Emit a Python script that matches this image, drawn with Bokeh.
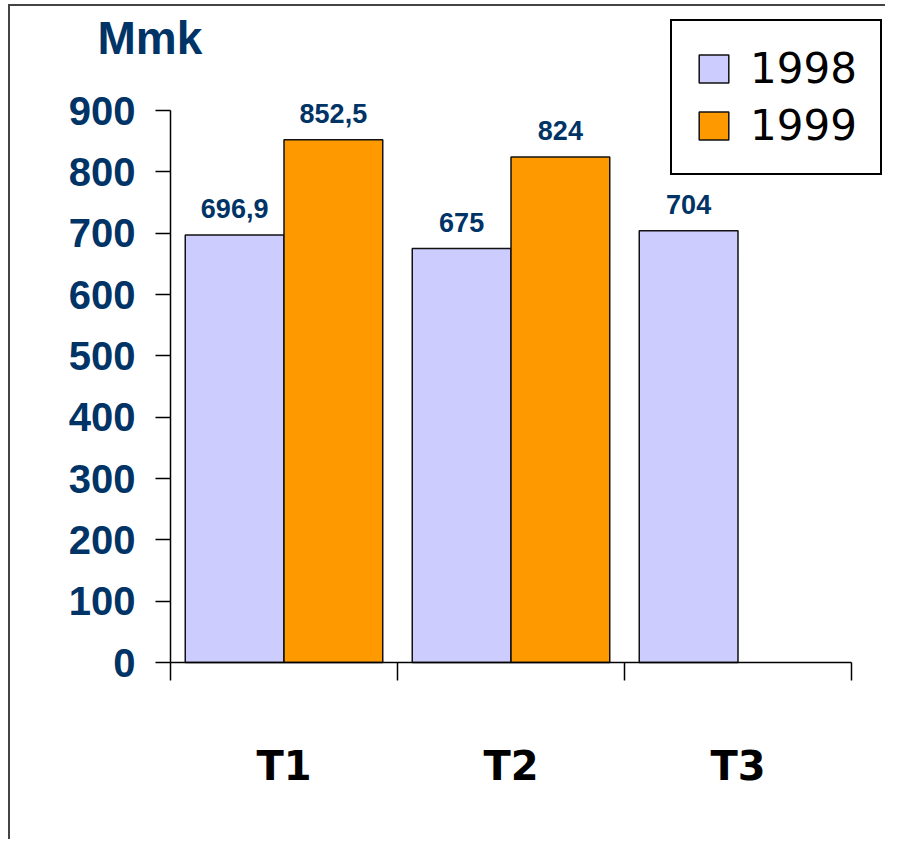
from bokeh.plotting import figure
from bokeh.models import (Range1d, LinearAxis, FixedTicker,
                          ColumnDataSource, LabelSet, Label, Legend, LegendItem)
from bokeh.core.properties import value
from bokeh.embed import file_html
from bokeh.resources import INLINE

# ---- data ----
categories = ["T1", "T2", "T3"]
years = ["1998", "1999"]
values_1998 = [696.9, 675, 704]
values_1999 = [852.5, 824, None]
y_ticks = [0, 100, 200, 300, 400, 500, 600, 700, 800, 900]
unit_label = "Mmk"

colors = {"1998": "#CCCCFF", "1999": "#FF9900"}
navy = "#003366"
BAR_W = 0.435

n = len(categories)
centers = [i + 0.5 for i in range(n)]
y_top = y_ticks[-1]

# layout (pixels)
W, H = 877, 835
PX_LEFT = 160          # frame-left to the y axis
PX_CAT = 227           # pixels per category
PX_Y = 552             # pixels from 0 to 900
PX_ABOVE0 = 656        # pixels from top of figure down to the x axis


def fmt(v):
    return f"{v:g}".replace(".", ",")


p = figure(width=W, height=H,
           x_range=Range1d(-PX_LEFT / PX_CAT, (W - PX_LEFT) / PX_CAT),
           y_range=Range1d(-(H - PX_ABOVE0) * y_top / PX_Y, PX_ABOVE0 * y_top / PX_Y),
           output_backend="svg", toolbar_location=None,
           x_axis_location=None, y_axis_location="left",
           min_border_left=0, min_border_right=0,
           min_border_top=0, min_border_bottom=0)
p.styles = {"border-left": "2px solid #444", "border-top": "2px solid #444",
            "margin-left": "8px", "margin-top": "4px"}
p.outline_line_color = None
p.xgrid.grid_line_color = None
p.ygrid.grid_line_color = None
p.background_fill_color = "white"
p.border_fill_color = "white"

# y axis drawn at x = 0
ya = p.yaxis[0]
ya.fixed_location = 0
ya.bounds = (0, y_top)
ya.ticker = FixedTicker(ticks=y_ticks)
ya.axis_line_color = "black"
ya.axis_line_width = 1.5
ya.major_tick_line_color = "black"
ya.major_tick_line_width = 1.5
ya.major_tick_out = 15
ya.major_tick_in = 0
ya.minor_tick_line_color = None
ya.major_label_standoff = 20
ya.major_label_text_font = "Liberation Sans"
ya.major_label_text_font_style = "bold"
ya.major_label_text_font_size = "40px"
ya.major_label_text_color = navy

# x axis drawn at y = 0: boundary ticks between categories
bounds = list(range(n + 1))
tick_axis = LinearAxis(ticker=FixedTicker(ticks=bounds), bounds=(0, n), fixed_location=0,
                       major_label_text_font_size="0px", major_label_standoff=0,
                       major_tick_out=18, major_tick_in=0,
                       major_tick_line_color="black", major_tick_line_width=1.5,
                       minor_tick_line_color=None,
                       axis_line_color="black", axis_line_width=1.5)
tick_axis.major_label_overrides = {b: "" for b in bounds}
p.add_layout(tick_axis, "below")

# category names at the centres
cat_axis = LinearAxis(ticker=FixedTicker(ticks=centers), bounds=(0, n), fixed_location=0,
                      axis_line_color=None, major_tick_line_color=None,
                      minor_tick_line_color=None,
                      major_label_text_font="DejaVu Sans",
                      major_label_text_font_style="bold",
                      major_label_text_font_size="40px",
                      major_label_text_color="black",
                      major_label_standoff=74)
cat_axis.major_label_overrides = {c: name for c, name in zip(centers, categories)}
p.add_layout(cat_axis, "below")

# bars
renderers = []
offsets = {"1998": -BAR_W / 2, "1999": BAR_W / 2}
for yr, vals in zip(years, [values_1998, values_1999]):
    xs = [c + offsets[yr] for c, v in zip(centers, vals) if v is not None]
    vs = [v for v in vals if v is not None]
    src = ColumnDataSource(dict(x=xs, val=vs, label=[fmt(v) for v in vs]))
    r = p.vbar(x="x", top="val", width=BAR_W, bottom=0, source=src,
               fill_color=colors[yr], line_color="#111111", line_width=1.5)
    renderers.append(r)
    labels = LabelSet(x="x", y="val", text="label",
                      source=src, text_align="center", text_baseline="alphabetic",
                      y_offset=17, text_font=value("Liberation Sans"),
                      text_font_style="bold",
                      text_font_size="27px", text_color=navy)
    p.add_layout(labels)

# unit label (screen units, from the frame's left / bottom edges)
p.add_layout(Label(x=87, y=804, x_units="screen", y_units="screen", text=unit_label,
                   text_font="Liberation Sans", text_font_style="bold",
                   text_font_size="46px", text_color=navy, text_baseline="alphabetic"))

legend = Legend(items=[LegendItem(label=yr, renderers=[r]) for yr, r in zip(years, renderers)],
                location=(660, 666), glyph_width=37, glyph_height=35,
                label_standoff=18, padding=23, spacing=8,
                border_line_color="black", border_line_width=2, border_line_alpha=1,
                background_fill_color="white", background_fill_alpha=1,
                label_text_font="DejaVu Sans", label_text_font_size="42px",
                label_text_color="black")
p.add_layout(legend)

open("out.html", "w").write(file_html(p, INLINE))
